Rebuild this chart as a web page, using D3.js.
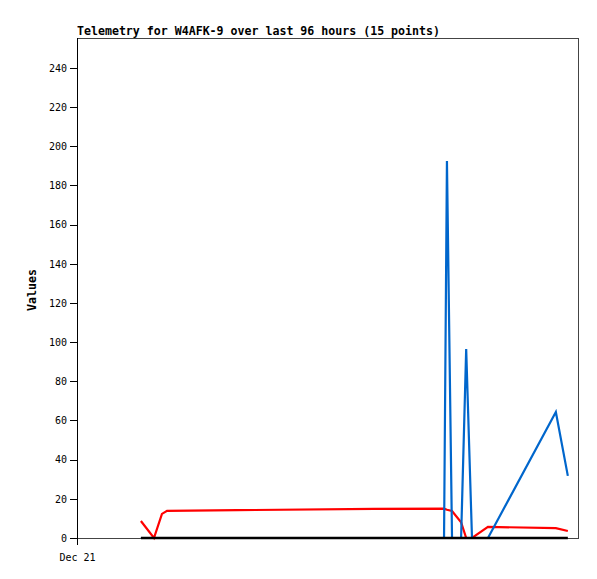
<!DOCTYPE html>
<html>
<head>
<meta charset="utf-8">
<script src="https://cdn.jsdelivr.net/npm/d3@7"></script>
<style>
  body { margin: 0; background: #fff; }
  text { font-family: "DejaVu Sans Mono", monospace; }
</style>
</head>
<body>
<svg id="chart"></svg>
<script>
var w = 597;
var h = 579;

var margin = { left: 77, right: 19, top: 38, bottom: 41 };
var figw = w - margin.left - margin.right;
var figh = h - margin.top - margin.bottom;

// sample times (Dec 21)
var times = ["02:56", "03:32", "03:54", "04:08", "07:21", "13:38", "16:51", "16:59",
             "17:13", "17:38", "17:52", "18:08", "18:52", "21:59", "22:32"];
var redValues   = [8.7, 0, 12.3, 13.9, 14.2, 14.9, 15, 14.4, 13.8, 8, 0, 0, 5.7, 5, 3.6];
var blueValues  = [0, 0, 0, 0, 0, 0, 0, 192.5, 0, 0, 96.5, 0, 0, 64.3, 31.7];
var blackValues = [0, 0, 0, 0, 0, 0, 0, 0, 0, 0, 0, 0, 0, 0, 0];
var yTicks = [0, 20, 40, 60, 80, 100, 120, 140, 160, 180, 200, 220, 240];
var xStart = "2024-12-21T00:00";
var xEnd = "2024-12-21T23:00";

var parse = d3.timeParse("%Y-%m-%dT%H:%M");
var dates = times.map(function(t) { return parse("2024-12-21T" + t); });

var x = d3.scaleTime().domain([parse(xStart), parse(xEnd)])
    .range([margin.left, margin.left + figw]);
var y = d3.scaleLinear().domain([0, 255.3])
    .range([margin.top + figh, margin.top]);

var svg = d3.select("#chart").attr("width", w).attr("height", h);

// frame
svg.append("rect")
    .attr("x", margin.left).attr("y", margin.top)
    .attr("width", figw).attr("height", figh)
    .attr("fill", "none").attr("stroke", "#444").attr("stroke-width", 1)
    .attr("shape-rendering", "crispEdges");

// y axis
var yAxis = d3.axisLeft(y).tickValues(yTicks).tickSize(7).tickPadding(3);
var gy = svg.append("g")
    .attr("transform", "translate(" + margin.left + ",0)")
    .call(yAxis);
gy.select(".domain").remove();
gy.selectAll("line").attr("shape-rendering", "crispEdges");
gy.selectAll("text").style("font-size", "10px").style("font-family", "'DejaVu Sans Mono', monospace");
svg.append("line")
    .attr("x1", margin.left).attr("x2", margin.left)
    .attr("y1", margin.top).attr("y2", margin.top + figh)
    .attr("stroke", "#000").attr("shape-rendering", "crispEdges");

// x axis
var xAxis = d3.axisBottom(x).tickValues([parse(xStart)]).tickSize(7).tickPadding(9)
    .tickFormat(d3.timeFormat("%b %d"));
var gx = svg.append("g")
    .attr("transform", "translate(0," + (margin.top + figh) + ")")
    .call(xAxis);
gx.select(".domain").remove();
gx.selectAll("line").attr("shape-rendering", "crispEdges");
gx.selectAll("text").style("font-size", "10px").style("font-family", "'DejaVu Sans Mono', monospace");

function addLine(values, color, width) {
    var line = d3.line()
        .x(function(d, i) { return x(dates[i]); })
        .y(function(d) { return y(d); });
    svg.append("path").datum(values)
        .attr("d", line)
        .attr("fill", "none")
        .attr("stroke", color)
        .attr("stroke-width", width);
}

addLine(redValues, "#ff0000", 2.2);
addLine(blueValues, "#0066cc", 2.2);
addLine(blackValues, "#000000", 2.6);

// title
svg.append("text")
    .attr("x", margin.left).attr("y", 35)
    .style("font-size", "11.6px").style("font-weight", "bold")
    .text("Telemetry for W4AFK-9 over last 96 hours (15 points)");

// y label
svg.append("text")
    .attr("transform", "translate(36," + (margin.top + figh / 2 + 2) + ") rotate(-90)")
    .style("text-anchor", "middle")
    .style("font-size", "11.6px").style("font-weight", "bold")
    .text("Values");
</script>
</body>
</html>
